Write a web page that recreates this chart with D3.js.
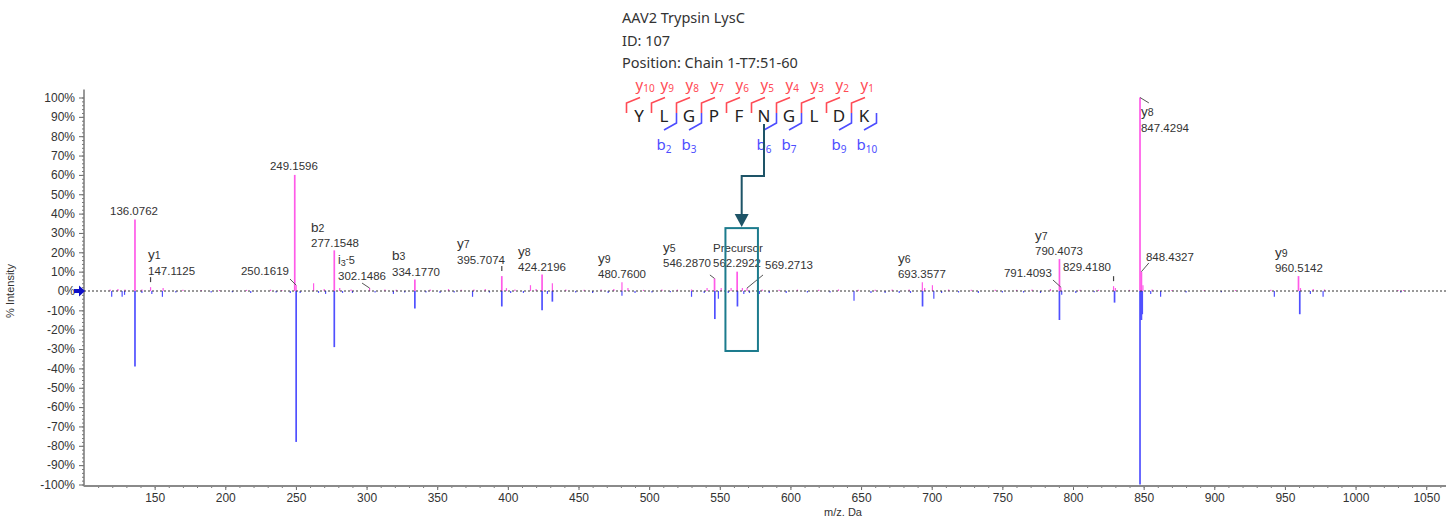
<!DOCTYPE html>
<html>
<head>
<meta charset="utf-8">
<script src="https://cdn.jsdelivr.net/npm/d3@7"></script>
<style>
  body { margin: 0; background: #fff; }
  svg { display: block; font-family: 'Liberation Sans', Arial, sans-serif; }
</style>
</head>
<body>
<svg id="chart" width="1452" height="518"></svg>
<script>
// ---- data ----
const headerLines = ['AAV2 Trypsin LysC', 'ID: 107', 'Position: Chain 1-T7:51-60']
const peptide = ['Y', 'L', 'G', 'P', 'F', 'N', 'G', 'L', 'D', 'K']
const yIonsSeen = [10, 9, 8, 7, 6, 5, 4, 3, 2, 1]
const bIonsSeen = [2, 3, 6, 7, 9, 10]

const mzTicks = [150, 200, 250, 300, 350, 400, 450, 500, 550, 600, 650, 700, 750, 800, 850, 900, 950, 1000, 1050]
const intensityTicks = [-100, -90, -80, -70, -60, -50, -40, -30, -20, -10, 0, 10, 20, 30, 40, 50, 60, 70, 80, 90, 100]

// measured spectrum (top, magenta): [m/z, % intensity]
const measured = [
  [118.5, 0.8], [124, 1], [129, 0.8], [136.08, 37], [141, 0.8], [147.11, 2], [156, 1.5],
  [170, 0.6], [183, 0.5], [196, 0.5], [215, 0.6], [232, 0.7], [240, 0.5], [249.16, 60],
  [250.16, 3], [262.5, 4], [270, 1], [277.15, 21], [281, 1.5], [289, 0.8], [302.15, 1.5],
  [313, 0.8], [321, 0.6], [334.18, 6], [345, 0.8], [358, 1], [367, 0.6], [376, 0.8],
  [384, 1], [395.71, 7.7], [399, 1.5], [405, 0.8], [416, 3], [420, 1], [424.22, 8.5],
  [431.5, 4], [441, 0.8], [454, 0.6], [466, 0.8], [475, 1], [480.76, 4.5], [485, 1.5],
  [496, 0.6], [509, 0.8], [520, 0.7], [530, 0.8], [541, 1.5], [546.29, 6.5], [551, 1.5],
  [558, 1.5], [562.29, 10], [566, 1.5], [569.27, 1.5], [580, 0.8], [592, 0.6], [605, 0.7],
  [620, 0.6], [634, 0.8], [648, 0.6], [660, 0.7], [672, 0.8], [684, 0.8], [693.36, 4.5],
  [695, 1.5], [700.5, 3], [712, 0.8], [728, 0.6], [745, 0.6], [760, 0.6], [771, 0.8],
  [784, 1], [790.41, 16.5], [791.41, 2], [805, 0.6], [818, 0.6], [828.7, 2.5], [830, 1.5],
  [840, 0.6], [847.43, 100], [848.43, 10], [849.5, 3], [856, 0.8], [870, 0.5], [893, 0.5],
  [915, 0.5], [940, 0.6], [959.6, 7.7], [961, 1.5], [970, 1], [978, 0.8], [1030, 0.5], [1034, 0.5]
]

// library spectrum (mirrored, blue): [m/z, % intensity]
const library = [
  [119.6, -3], [127, -3], [128.7, -2], [136.08, -39], [141, -1], [148, -1.5], [155.5, -3],
  [165, -0.8], [190, -0.8], [205, -0.6], [218, -1], [236, -0.8], [246, -1], [250.16, -78],
  [253, -1], [266, -1], [271, -1.5], [277.15, -29], [283, -1], [290, -1], [306, -0.8],
  [319, -1.5], [327, -0.8], [334.18, -9], [342, -0.8], [352, -1], [362, -0.8], [375, -3],
  [387, -0.8], [395.71, -8], [402, -1], [411, -1], [424.22, -10], [428, -1.5], [431.5, -5.5],
  [448, -0.8], [460, -1], [471, -1], [480.76, -2.5], [490, -1], [502, -0.8], [515, -0.6],
  [530, -3], [539, -1], [546.5, -14.5], [549, -4], [556, -1], [562.5, -8], [567, -1.5],
  [571, -1], [578, -1.5], [585, -1], [597, -1], [612, -0.8], [628, -0.8], [645, -5],
  [657, -1], [667, -1], [677, -1], [685, -1], [693.5, -8], [701.5, -4], [707, -1],
  [719, -0.8], [733, -1], [750, -0.8], [765, -0.8], [777, -1], [790.4, -15], [792, -2],
  [802, -1], [815, -0.6], [829.4, -6], [847.43, -100], [848.0, -15], [848.43, -15], [849.0, -12],
  [855, -1.5], [862, -3], [880, -0.8], [905, -0.6], [942.5, -3], [960.5, -12], [968, -1.5],
  [977, -3], [1032, -0.8]
]

// peak annotations: label anchor (left / baseline of the m/z line) in data units
const peakLabels = [
  { mz: 136.08, pct: 37, ion: '', text: '136.0762', at: [118.4, 39.3] },
  { mz: 147.11, pct: 2, ion: 'y|1', text: '147.1125', at: [145.3, 8.3], leader: 'tick' },
  { mz: 249.16, pct: 60, ion: '', text: '249.1596', at: [231.6, 62.5] },
  { mz: 250.16, pct: 3, ion: '', text: '250.1619', at: [211.1, 8.3], leader: [245.8, 6.2] },
  { mz: 277.15, pct: 21, ion: 'b|2', text: '277.1548', at: [260.7, 22.7] },
  { mz: 302.15, pct: 1.5, ion: 'i|3-5', text: '302.1486', at: [279.8, 5.7], leader: [296.8, 4.1] },
  { mz: 334.18, pct: 6, ion: 'b|3', text: '334.1770', at: [318, 7.8] },
  { mz: 395.71, pct: 7.7, ion: 'y|7', text: '395.7074', at: [364, 14], leader: 'tick' },
  { mz: 424.22, pct: 8.5, ion: 'y|8', text: '424.2196', at: [407.2, 10.3] },
  { mz: 480.76, pct: 4.5, ion: 'y|9', text: '480.7600', at: [463.8, 6.7] },
  { mz: 546.29, pct: 6.5, ion: 'y|5', text: '546.2870', at: [509.8, 12.4], leader: [543, 8.3] },
  { mz: 562.29, pct: 10, ion: 'Precursor', text: '562.2922', at: [545.2, 12.4] },
  { mz: 569.27, pct: 1.5, ion: '', text: '569.2713', at: [582, 11.4], leader: [580.6, 8.3] },
  { mz: 693.36, pct: 4.5, ion: 'y|6', text: '693.3577', at: [676.1, 6.7] },
  { mz: 790.41, pct: 16.5, ion: 'y|7', text: '790.4073', at: [773.1, 18.6] },
  { mz: 791.41, pct: 2, ion: '', text: '791.4093', at: [751.1, 7.2], leader: [785.8, 5.7] },
  { mz: 828.7, pct: 2.5, ion: '', text: '829.4180', at: [792.9, 10.3], leader: 'tick' },
  { mz: 847.43, pct: 100, ion: 'y|8', text: '847.4294', at: [848.1, 82.2], leader: [853.7, 97.2] },
  { mz: 848.43, pct: 10, ion: '', text: '848.4327', at: [851.6, 15.5], leader: [853.7, 14.5] },
  { mz: 959.6, pct: 7.7, ion: 'y|9', text: '960.5142', at: [942.9, 9.8] }
]

const precursorWindow = { mz: [554, 577], pct: [-31, 32.5] }

// ---- layout ----
const width = 1452
const height = 518
const margin = { top: 97.5, right: 6, bottom: 33.5, left: 84 }
const measuredColor = '#ff5ae8'
const libraryColor = '#5050ff'
const yIonColor = '#ff4b55'
const bIonColor = '#4d4dff'
const textColor = '#333'

const svg = d3.select('#chart')

const x = d3.scaleLinear()
  .domain([100, 1064])
  .range([margin.left, width - margin.right])

const y = d3.scaleLinear()
  .domain([-100, 100])
  .range([height - margin.bottom, margin.top])

/**
 * Write an ion name like y|7 as a letter plus a smaller index
 *
 * @param {object} sel - text selection
 * @param {string} ion - ion name, index after the bar
 * @param {number} big - font size of the letter
 * @param {number} small - font size of the index
 * @param {number} shift - how far the index drops
 */
function ionText (sel, ion, big, small, shift) {
  const [letter, index] = ion.split('|')
  sel.append('tspan').style('font-size', big + 'px').text(letter)
  if (index) {
    sel.append('tspan')
      .style('font-size', small + 'px')
      .attr('dy', shift)
      .text(index)
  }
}

/**
 * Draw axes, frame and zero line
 */
function drawAxes () {
  const axisY = svg.append('g')
    .attr('class', 'axis-y')
    .attr('transform', `translate(${margin.left},0)`)
    .call(d3.axisLeft(y).tickValues(intensityTicks).tickFormat((d) => d + '%').tickSize(5).tickPadding(4))
  axisY.select('.domain').remove()
  axisY.selectAll('text').style('font-size', '12px').attr('fill', textColor)
  axisY.selectAll('line').attr('stroke', '#666')

  const minorY = svg.append('g')
    .attr('transform', `translate(${margin.left},0)`)
    .call(d3.axisLeft(y).tickValues(d3.range(-100, 101, 2)).tickFormat('').tickSize(2))
  minorY.select('.domain').remove()
  minorY.selectAll('line').attr('stroke', '#777')

  const baseY = height - margin.bottom + 1.5
  const axisX = svg.append('g')
    .attr('class', 'axis-x')
    .attr('transform', `translate(0,${baseY})`)
    .call(d3.axisBottom(x).tickValues(mzTicks).tickFormat(d3.format('d')).tickSize(4).tickPadding(3))
  axisX.select('.domain').remove()
  axisX.selectAll('text').style('font-size', '12px').attr('fill', textColor)
  axisX.selectAll('line').attr('stroke', '#666')

  const minorX = svg.append('g')
    .attr('transform', `translate(0,${baseY})`)
    .call(d3.axisBottom(x).tickValues(d3.range(110, 1064, 10)).tickFormat('').tickSize(2))
  minorX.select('.domain').remove()
  minorX.selectAll('line').attr('stroke', '#777')

  // frame
  svg.append('line')
    .attr('x1', margin.left).attr('x2', margin.left)
    .attr('y1', margin.top - 8).attr('y2', baseY + 0.5)
    .attr('stroke', '#777').attr('stroke-width', 1.5)
  svg.append('line')
    .attr('x1', margin.left).attr('x2', width - margin.right)
    .attr('y1', baseY).attr('y2', baseY)
    .attr('stroke', '#8a8a8a').attr('stroke-width', 2)

  // axis titles
  svg.append('text')
    .attr('transform', `translate(14,${y(0)}) rotate(-90)`)
    .attr('text-anchor', 'middle')
    .style('font-size', '11px')
    .attr('fill', textColor)
    .text('% Intensity')
  svg.append('text')
    .attr('x', 843).attr('y', height - 2)
    .attr('text-anchor', 'middle')
    .style('font-size', '11px')
    .attr('fill', textColor)
    .text('m/z. Da')
}

/**
 * Draw the mirrored spectrum
 */
function drawPeaks () {
  svg.append('g')
    .attr('class', 'library')
    .selectAll('line')
    .data(library)
    .join('line')
    .attr('x1', (d) => x(d[0])).attr('x2', (d) => x(d[0]))
    .attr('y1', y(0)).attr('y2', (d) => y(d[1]))
    .attr('stroke', libraryColor)
    .attr('stroke-width', (d) => Math.abs(d[1]) > 5 ? 1.7 : 1.2)

  svg.append('g')
    .attr('class', 'measured')
    .selectAll('line')
    .data(measured)
    .join('line')
    .attr('x1', (d) => x(d[0])).attr('x2', (d) => x(d[0]))
    .attr('y1', y(0)).attr('y2', (d) => y(d[1]))
    .attr('stroke', measuredColor)
    .attr('stroke-width', (d) => d[1] > 5 ? 1.7 : 1.2)

  // dotted zero line
  svg.append('line')
    .attr('x1', margin.left).attr('x2', width - margin.right)
    .attr('y1', y(0)).attr('y2', y(0))
    .attr('stroke', '#333')
    .attr('stroke-dasharray', '2,2')

  // blue marker at 0 %
  const y0 = y(0)
  svg.append('path')
    .attr('d', `M${margin.left - 10},${y0 - 2} H${margin.left - 5} V${y0 - 5.5} L${margin.left + 1},${y0} L${margin.left - 5},${y0 + 5.5} V${y0 + 2} H${margin.left - 10} Z`)
    .attr('fill', '#1010c8')
}

/**
 * Draw the peak annotations and their leaders
 */
function drawLabels () {
  const g = svg.append('g').attr('class', 'peak-labels')
  peakLabels.forEach((d) => {
    const lx = x(d.at[0])
    const ly = y(d.at[1])
    g.append('text')
      .attr('x', lx).attr('y', ly)
      .style('font-size', '11.5px')
      .attr('fill', textColor)
      .text(d.text)
    if (d.ion) {
      const t = g.append('text')
        .attr('x', lx).attr('y', ly - 15.5)
        .attr('fill', textColor)
      if (d.ion === 'Precursor') {
        t.style('font-size', '11.5px').text(d.ion)
      } else if (d.ion.startsWith('i')) {
        ionText(t, 'i|3', 12, 9, 2)
        t.append('tspan').style('font-size', '9px').attr('dy', -4).text('-')
        t.append('tspan').style('font-size', '11px').attr('dy', 2).text('5')
      } else {
        ionText(t, d.ion, 13.5, 10.5, 0)
      }
    }
    const px = x(d.mz)
    const py = y(d.pct)
    if (d.leader === 'tick') {
      g.append('line')
        .attr('x1', px).attr('x2', px)
        .attr('y1', py - 10).attr('y2', py - 5)
        .attr('stroke', '#444').attr('stroke-width', 1.2)
    } else if (d.leader) {
      g.append('line')
        .attr('x1', x(d.leader[0])).attr('y1', y(d.leader[1]))
        .attr('x2', px).attr('y2', py)
        .attr('stroke', '#555').attr('stroke-width', 1)
    }
  })
}

/**
 * Draw the peptide header, fragment brackets, arrow and precursor box
 */
function drawPeptide () {
  const g = svg.append('g')
    .attr('class', 'peptide')
    .style('font-family', "'Noto Sans', 'Open Sans', sans-serif")

  g.selectAll('.header')
    .data(headerLines)
    .join('text')
    .attr('class', 'header')
    .attr('x', 622)
    .attr('y', (d, i) => 23 + i * 22.5)
    .style('font-size', '14.5px')
    .attr('fill', textColor)
    .text((d) => d)

  const x0 = 639
  const step = 25
  const resX = (i) => x0 + i * step

  g.selectAll('.residue')
    .data(peptide)
    .join('text')
    .attr('class', 'residue')
    .attr('x', (d, i) => resX(i))
    .attr('y', 122)
    .attr('text-anchor', 'middle')
    .style('font-size', '17px')
    .attr('fill', '#222')
    .text((d) => d)

  // y ions: bracket opens left of the residue
  yIonsSeen.forEach((n) => {
    const i = peptide.length - n
    const bx = resX(i) - 12.5
    g.append('path')
      .attr('d', `M${bx},113 V103 L${bx + 13.5},97.5`)
      .attr('fill', 'none')
      .attr('stroke', yIonColor).attr('stroke-width', 1.6)
    const t = g.append('text')
      .attr('x', resX(i) - 3.5).attr('y', 90)
      .attr('fill', yIonColor)
    ionText(t, 'y|' + n, 15, 10, 1.5)
  })

  // b ions: bracket closes right of the residue
  bIonsSeen.forEach((n) => {
    const bx = resX(n - 1) + 12.5
    g.append('path')
      .attr('d', `M${bx},113 V123 L${bx - 12.5},130`)
      .attr('fill', 'none')
      .attr('stroke', bIonColor).attr('stroke-width', 1.6)
    const t = g.append('text')
      .attr('x', bx - 20).attr('y', 150)
      .attr('fill', bIonColor)
    ionText(t, 'b|' + n, 15, 10, 3)
  })

  // precursor box
  const bx0 = x(precursorWindow.mz[0])
  const bx1 = x(precursorWindow.mz[1])
  const by0 = y(precursorWindow.pct[1])
  const by1 = y(precursorWindow.pct[0])
  svg.append('rect')
    .attr('x', bx0).attr('y', by0)
    .attr('width', bx1 - bx0).attr('height', by1 - by0)
    .attr('fill', 'none')
    .attr('stroke', '#1c7b8d').attr('stroke-width', 2)

  // arrow from the precursor residue to the box
  const nx = resX(5)
  const cx = (bx0 + bx1) / 2
  svg.append('path')
    .attr('d', `M${nx},124 V176 H${cx} V${by0 - 12}`)
    .attr('fill', 'none')
    .attr('stroke', '#1e5467').attr('stroke-width', 2)
  svg.append('path')
    .attr('d', `M${cx - 7},${by0 - 14} H${cx + 7} L${cx},${by0 - 1} Z`)
    .attr('fill', '#1e5467')
}

drawAxes()
drawPeaks()
drawLabels()
drawPeptide()
</script>
</body>
</html>
